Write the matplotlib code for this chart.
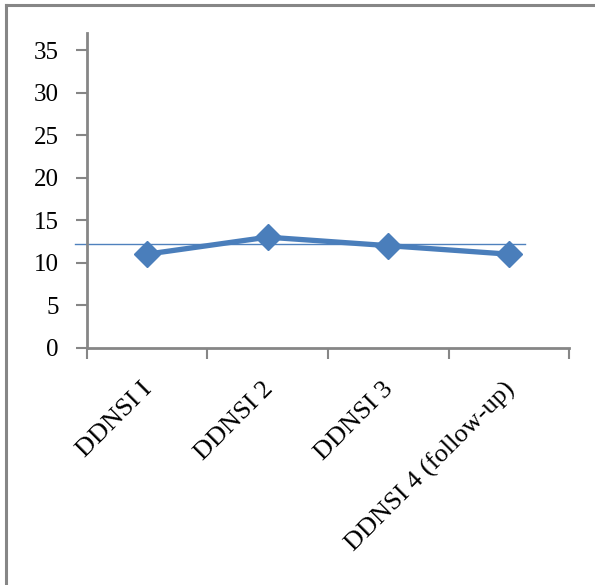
import matplotlib.pyplot as plt
import matplotlib.transforms as mtransforms
from matplotlib.lines import Line2D

# data
labels = ["DDNSI I", "DDNSI 2", "DDNSI 3", "DDNSI 4 (follow-up)"]
scores = [11, 13, 12, 11]
ref_level = 12.2
yticks = [0, 5, 10, 15, 20, 25, 30, 35]

plt.rcParams['font.family'] = 'serif'
plt.rcParams['font.serif'] = ['Liberation Serif', 'Times New Roman', 'DejaVu Serif']

fig = plt.figure(figsize=(5.95, 5.85), dpi=100)
ax = fig.add_axes([0.1457, 0.4056, 0.8111, 0.5379])

x = list(range(len(labels)))
blue = '#4a7ebb'
ax.plot(x, scores, color=blue, lw=3.8, marker='D', markersize=13,
        solid_joinstyle='round', zorder=3)
ax.plot([-0.6, 3.134], [ref_level, ref_level], color='#4f81bd', lw=1,
        clip_on=False, zorder=2)

ax.set_xlim(-0.5, 3.5)
ax.set_ylim(0, 37.0)
ax.set_yticks(yticks)
ax.set_xticks([-0.5, 0.5, 1.5, 2.5, 3.5])
ax.set_xticklabels([])
ax.set_xticks(x, minor=True)
ax.set_xticklabels(labels, minor=True, rotation=45, ha='right', va='top',
                   rotation_mode='anchor', fontsize=19)
ax.tick_params(axis='x', which='minor', length=0, pad=18)
ax.tick_params(axis='x', which='major', direction='out', length=8,
               width=1.5, color='#868686')
ax.tick_params(axis='y', direction='out', length=8, width=1.5,
               color='#868686', labelsize=18, pad=12)

# nudge rotated category labels
shift = mtransforms.ScaledTranslation(-0.06, -0.05, fig.dpi_scale_trans)
for lab in ax.get_xticklabels(minor=True):
    lab.set_transform(lab.get_transform() + shift)

for side in ['top', 'right']:
    ax.spines[side].set_visible(False)
for side in ['left', 'bottom']:
    ax.spines[side].set_color('#868686')
    ax.spines[side].set_linewidth(2)

# outer frame (left and top only are visible)
fig.add_artist(Line2D([0.0109, 0.0109], [0, 0.9915], transform=fig.transFigure,
                      color='#868686', lw=2.2))
fig.add_artist(Line2D([0.0109, 1.0], [0.9915, 0.9915], transform=fig.transFigure,
                      color='#868686', lw=2.2))

fig.savefig('out.png', dpi=100)
